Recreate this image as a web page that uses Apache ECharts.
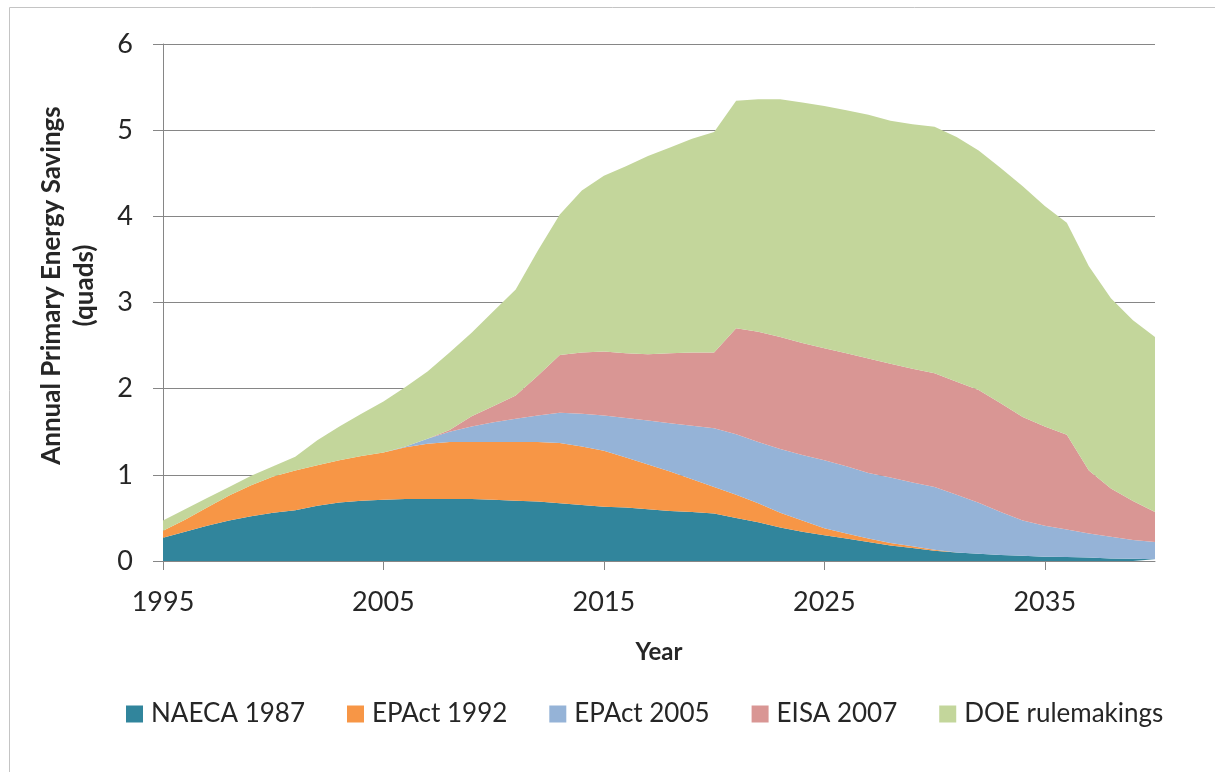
<!DOCTYPE html>
<html>
<head>
<meta charset="utf-8">
<title>Annual Primary Energy Savings</title>
<script src="https://cdn.jsdelivr.net/npm/echarts@6/dist/echarts.min.js"></script>
<style>
  html, body { margin: 0; padding: 0; background: #fff; }
  #container { width: 1215px; height: 772px; }
</style>
</head>
<body>
<div id="container"></div>
<script>
// years on the x axis
var years = [];
for (var y = 1995; y <= 2040; y++) years.push(String(y));

// annual savings per standard group (quads), stacked
var naeca1987 = [0.27,0.34,0.41,0.47,0.52,0.56,0.59,0.64,0.68,0.70,
                 0.71,0.72,0.72,0.72,0.72,0.71,0.70,0.69,0.67,0.65,
                 0.63,0.62,0.60,0.58,0.57,0.55,0.50,0.45,0.39,0.34,
                 0.30,0.26,0.22,0.18,0.15,0.12,0.10,0.085,0.07,0.06,
                 0.05,0.045,0.04,0.03,0.025,0.02];
var epact1992 = [0.08,0.14,0.21,0.29,0.36,0.42,0.46,0.47,0.49,0.52,
                 0.55,0.60,0.64,0.66,0.66,0.67,0.68,0.69,0.70,0.68,
                 0.65,0.58,0.52,0.46,0.38,0.31,0.27,0.22,0.17,0.13,
                 0.08,0.06,0.04,0.03,0.02,0.01,0,0,0,0,
                 0,0,0,0,0,0];
var epact2005 = [0,0,0,0,0,0,0,0,0,0,
                 0,0.01,0.06,0.12,0.18,0.23,0.27,0.31,0.35,0.38,
                 0.41,0.46,0.51,0.56,0.62,0.68,0.70,0.71,0.74,0.76,
                 0.79,0.78,0.76,0.76,0.74,0.73,0.67,0.59,0.50,0.41,
                 0.36,0.32,0.28,0.25,0.22,0.20];
var eisa2007  = [0,0,0,0,0,0,0,0,0,0,
                 0,0,0,0.02,0.12,0.19,0.27,0.46,0.67,0.71,
                 0.74,0.75,0.77,0.81,0.85,0.88,1.23,1.28,1.30,1.30,
                 1.30,1.31,1.33,1.32,1.32,1.32,1.31,1.31,1.26,1.20,
                 1.15,1.10,0.73,0.56,0.45,0.35];
var doeRules  = [0.12,0.12,0.11,0.10,0.11,0.12,0.16,0.29,0.39,0.49,
                 0.59,0.69,0.78,0.90,0.97,1.10,1.23,1.45,1.63,1.88,
                 2.04,2.17,2.30,2.39,2.48,2.56,2.64,2.70,2.76,2.79,
                 2.81,2.82,2.83,2.82,2.84,2.86,2.84,2.78,2.73,2.68,
                 2.56,2.46,2.37,2.21,2.10,2.03];

var seriesNames = ['NAECA 1987', 'EPAct 1992', 'EPAct 2005', 'EISA 2007', 'DOE rulemakings'];
var seriesData = [naeca1987, epact1992, epact2005, eisa2007, doeRules];
var colors = ['#31859C', '#F79646', '#95B3D7', '#D99694', '#C3D69B'];

var myChart = echarts.init(document.getElementById('container'));

var option = {
  backgroundColor: '#fff',
  animation: false,
  color: colors,
  textStyle: { fontFamily: 'Lato', color: '#262626' },
  graphic: [{
    type: 'rect', silent: true,
    shape: { x: 9.5, y: 7.5, width: 1300, height: 900 },
    style: { fill: 'none', stroke: '#c4c4c4', lineWidth: 1 }
  }],
  grid: { left: 163, right: 60, top: 44, bottom: 211 },
  legend: {
    bottom: 40,
    left: 121,
    itemWidth: 17, itemHeight: 17,
    itemGap: 42,
    icon: 'rect',
    textStyle: { fontSize: 26, color: '#262626', padding: [0, 0, 0, 3] },
    data: seriesNames
  },
  xAxis: {
    type: 'category',
    data: years,
    boundaryGap: false,
    name: 'Year',
    nameLocation: 'middle',
    nameGap: 79,
    nameTextStyle: { fontSize: 24, fontWeight: 'bold', color: '#262626' },
    axisLine: { lineStyle: { color: '#868686', width: 1 } },
    axisTick: {
      length: 9,
      interval: function (i) { return i % 10 === 0; },
      lineStyle: { color: '#868686' }
    },
    axisLabel: {
      interval: function (i) { return i % 10 === 0; },
      fontSize: 27, color: '#262626', margin: 28
    },
    splitLine: { show: false }
  },
  yAxis: {
    type: 'value',
    min: 0, max: 6, interval: 1,
    name: 'Annual Primary Energy Savings\n(quads)',
    nameLocation: 'middle',
    nameGap: 62,
    nameTextStyle: {
      fontSize: 26, fontWeight: 'bold', color: '#262626', lineHeight: 33,
      padding: [0, 0, 0, 34]
    },
    axisLine: { show: true, lineStyle: { color: '#868686', width: 1 } },
    axisTick: { show: true, length: 10, lineStyle: { color: '#868686' } },
    axisLabel: { fontSize: 27, color: '#262626', margin: 30 },
    splitLine: { lineStyle: { color: '#868686', width: 1 } }
  },
  series: seriesNames.map(function (name, k) {
    return {
      name: name,
      type: 'line',
      stack: 'savings',
      data: seriesData[k],
      symbol: 'none',
      lineStyle: { width: 0 },
      areaStyle: { color: colors[k], opacity: 1 },
      z: 2
    };
  })
};
myChart.setOption(option);
</script>
</body>
</html>
